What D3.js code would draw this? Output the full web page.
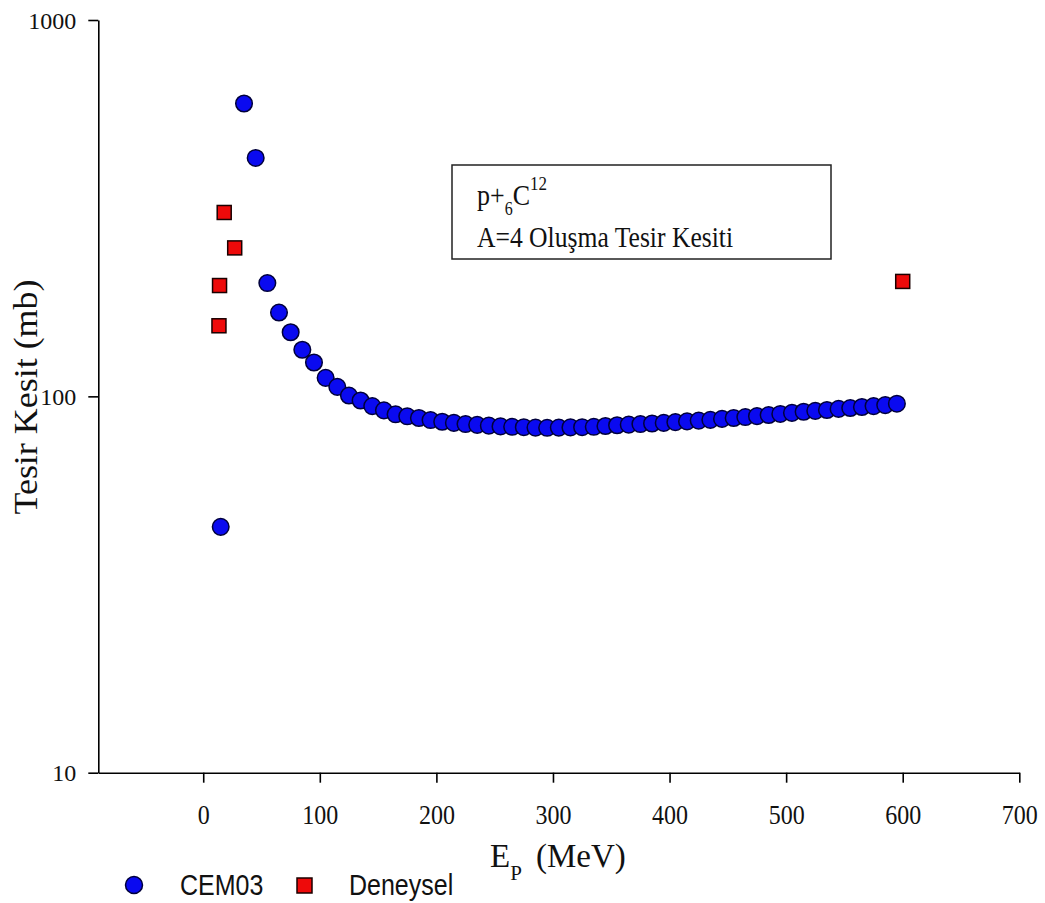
<!DOCTYPE html>
<html>
<head>
<meta charset="utf-8">
<script src="https://cdn.jsdelivr.net/npm/d3@7"></script>
<style>
  html, body { margin: 0; padding: 0; background: #fff; }
  svg { display: block; }
</style>
</head>
<body>
<svg id="chart" width="1045" height="903"></svg>
<script>
// ---- data ----
const cemEnergy = [15, 35, 45, 55, 65, 75, 85, 95, 105, 115, 125, 135, 145, 155, 165, 175, 185, 195,
  205, 215, 225, 235, 245, 255, 265, 275, 285, 295, 305, 315, 325, 335, 345, 355, 365, 375, 385, 395,
  405, 415, 425, 435, 445, 455, 465, 475, 485, 495, 505, 515, 525, 535, 545, 555, 565, 575, 585, 595];
const cemValue = [45, 600, 430, 200, 167, 148, 133, 123, 112, 106, 100.5, 97.5, 94.2, 91.8, 89.6, 88.5, 87.6, 86.5,
  85.6, 85.0, 84.4, 84.0, 83.6, 83.2, 83.0, 82.8, 82.6, 82.5, 82.6, 82.7, 82.8, 83.0, 83.4, 83.8, 84.1, 84.4, 84.7, 85.0,
  85.4, 85.8, 86.2, 86.6, 87.1, 87.6, 88.1, 88.6, 89.2, 89.8, 90.4, 91.0, 91.5, 92.0, 92.6, 93.1, 93.7, 94.2, 94.8, 95.6];
const expEnergy = [13.5, 14, 18, 27, 600];
const expValue = [154, 197, 308, 248, 202];
const xTicks = [0, 100, 200, 300, 400, 500, 600, 700];
const yTicks = [10, 100, 1000];
const seriesNames = ["CEM03", "Deneysel"];

// ---- layout ----
const svg = d3.select("#chart");
const x = d3.scaleLinear().domain([-90, 700]).range([98.3, 1019.3]);
const y = d3.scaleLog().domain([10, 1000]).range([772.7, 20]);
const serif = "'Liberation Serif', 'Times New Roman', serif";
const sans = "'Liberation Sans', Arial, sans-serif";

// axes
const xAxis = svg.append("g").attr("transform", `translate(0,${y(10)})`)
  .call(d3.axisBottom(x).tickValues(xTicks).tickFormat(d3.format("d")).tickSize(10).tickSizeOuter(0));
xAxis.select(".domain").attr("stroke", "#000").attr("stroke-width", 1.6);
xAxis.selectAll(".tick line").attr("stroke", "#000").attr("stroke-width", 1.6);
xAxis.selectAll(".tick text")
  .attr("y", 0).attr("dy", 0)
  .attr("transform", "translate(0,51.5) scale(1,1.15)")
  .style("font-family", serif).style("font-size", "24px").attr("fill", "#111");

const yAxis = svg.append("g").attr("transform", `translate(${x(-90)},0)`)
  .call(d3.axisLeft(y).tickValues(yTicks).tickFormat(d3.format("d")).tickSize(10).tickSizeOuter(0));
yAxis.select(".domain").attr("stroke", "#000").attr("stroke-width", 1.6);
yAxis.selectAll(".tick line").attr("stroke", "#000").attr("stroke-width", 1.6);
yAxis.selectAll(".tick text")
  .attr("x", -22).attr("dy", "0.34em")
  .style("font-family", serif).style("font-size", "24px").attr("fill", "#111");

// axis titles
const xt = svg.append("text").attr("x", 490).attr("y", 866.7)
  .style("font-family", serif).style("font-size", "33px").attr("fill", "#111");
xt.append("tspan").text("E");
xt.append("tspan").style("font-size", "21px").attr("dy", 13).text("P");
xt.append("tspan").attr("dy", -13).attr("x", 536).text("(MeV)");

svg.append("text")
  .attr("transform", "translate(37,397) rotate(-90)")
  .attr("text-anchor", "middle")
  .style("font-family", serif).style("font-size", "33px")
  .attr("textLength", 235).attr("lengthAdjust", "spacingAndGlyphs")
  .attr("fill", "#111")
  .text("Tesir Kesit (mb)");

// data marks
svg.append("g").selectAll("circle")
  .data(cemEnergy.map((e, i) => [e, cemValue[i]]))
  .join("circle")
  .attr("cx", d => x(d[0])).attr("cy", d => y(d[1])).attr("r", 8.3)
  .attr("fill", "#0a0af0").attr("stroke", "#00003a").attr("stroke-width", 1.5);

const sq = 14;
svg.append("g").selectAll("rect")
  .data(expEnergy.map((e, i) => [e, expValue[i]]))
  .join("rect")
  .attr("x", d => x(d[0]) - sq / 2).attr("y", d => y(d[1]) - sq / 2)
  .attr("width", sq).attr("height", sq)
  .attr("fill", "#ee0a0a").attr("stroke", "#1a0000").attr("stroke-width", 1.5);

// annotation box
svg.append("rect").attr("x", 452).attr("y", 165).attr("width", 379).attr("height", 94)
  .attr("fill", "#fff").attr("stroke", "#222").attr("stroke-width", 1.5);
const l1 = svg.append("text").style("font-family", serif).style("font-size", "26px").attr("fill", "#111")
  .attr("transform", "translate(477,205) scale(1,1.15)");
l1.append("tspan").text("p+");
l1.append("tspan").style("font-size", "16px").attr("dy", 9).text("6");
l1.append("tspan").attr("dy", -9).text("C");
l1.append("tspan").style("font-size", "17px").attr("dy", -13).text("12");
svg.append("text").style("font-family", serif).style("font-size", "25.6px").attr("fill", "#111")
  .attr("transform", "translate(477,246.7) scale(1,1.17)")
  .text("A=4 Oluşma Tesir Kesiti");

// legend
const lg = svg.append("g");
lg.append("circle").attr("cx", 134).attr("cy", 885).attr("r", 8.5)
  .attr("fill", "#0a0af0").attr("stroke", "#00003a").attr("stroke-width", 1.5);
lg.append("text").attr("x", 180).attr("y", 895).style("font-family", sans).style("font-size", "25px")
  .attr("transform", "translate(0,-134) scale(1,1.15)")
  .attr("fill", "#111").text(seriesNames[0]);
lg.append("rect").attr("x", 297).attr("y", 878).attr("width", 15).attr("height", 15)
  .attr("fill", "#ee0a0a").attr("stroke", "#1a0000").attr("stroke-width", 1.5);
lg.append("text").attr("x", 349).attr("y", 895).style("font-family", sans).style("font-size", "25px")
  .attr("transform", "translate(0,-134) scale(1,1.15)")
  .attr("fill", "#111").text(seriesNames[1]);
</script>
</body>
</html>
